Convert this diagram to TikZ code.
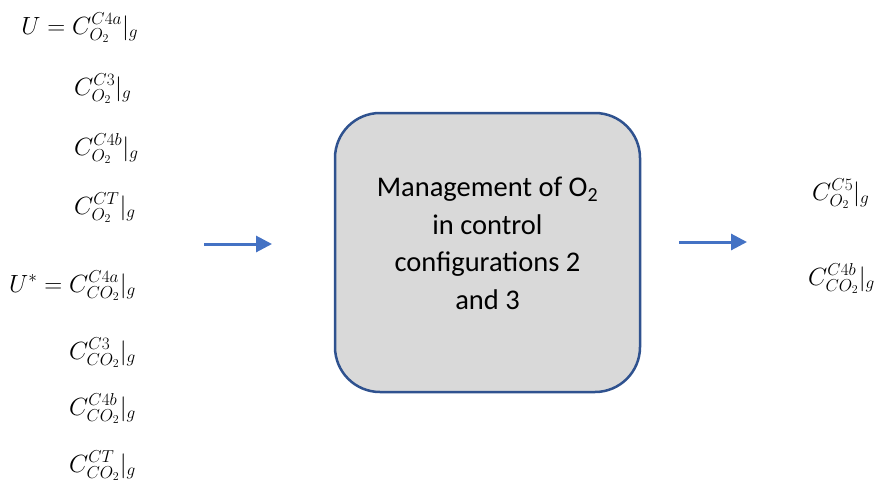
\documentclass[tikz,border=0pt]{standalone}
\usepackage{fontspec}
\setmainfont{Carlito}
\usetikzlibrary{arrows.meta}
\definecolor{flowblue}{HTML}{4472C4}
\definecolor{boxedge}{HTML}{2F528F}
\definecolor{boxfill}{HTML}{D9D9D9}
\begin{document}
\begin{tikzpicture}[x=1pt,y=-1pt,
  var/.style={anchor=base west,inner sep=0pt,font=\fontsize{24}{28}\selectfont},
  procbox/.style={draw=boxedge,line width=2.5pt,fill=boxfill,rounded corners=45pt,
    minimum width=305pt,minimum height=279pt,inner sep=0pt},
  proctext/.style={align=center,inner sep=0pt,font=\fontsize{28.5}{37.5}\selectfont},
  flow/.style={draw=flowblue,line width=3pt,-{Triangle[length=16pt,width=16pt]}}]
\useasboundingbox (0,0) rectangle (874,485);

% input variables
\node[var] (u1) at (72,34)  {$\llap{$U = {}$}C^{C4a}_{O_2}|_g$};
\node[var] (u2) at (74,95)  {$C^{C3}_{O_2}|_g$};
\node[var] (u3) at (74,155) {$C^{C4b}_{O_2}|_g$};
\node[var] (u4) at (74,214) {$C^{CT}_{O_2}|_g$};
\node[var] (s1) at (69,292) {$\llap{$U^{*} = {}$}C^{C4a}_{CO_2}|_g$};
\node[var] (s2) at (69,359) {$C^{C3}_{CO_2}|_g$};
\node[var] (s3) at (69,415) {$C^{C4b}_{CO_2}|_g$};
\node[var] (s4) at (69,472) {$C^{CT}_{CO_2}|_g$};

% process block
\node[procbox] (mgmt) at (487.5,252.5) {};
\node[proctext] (mgmttext) at ([yshift=9pt]mgmt.center)
  {Management of O\textsubscript{2}\\in control\\configurations 2\\and 3};

% output variables
\node[var] (y1) at (812,200) {$C^{C5}_{O_2}|_g$};
\node[var] (y2) at (808,285) {$C^{C4b}_{CO_2}|_g$};

% flow arrows
\coordinate (inA) at (204,244);
\coordinate (inB) at (272,244);
\coordinate (outA) at (679,242);
\coordinate (outB) at (747,242);
\draw[flow] (inA) -- (inB);
\draw[flow] (outA) -- (outB);
\end{tikzpicture}
\end{document}
